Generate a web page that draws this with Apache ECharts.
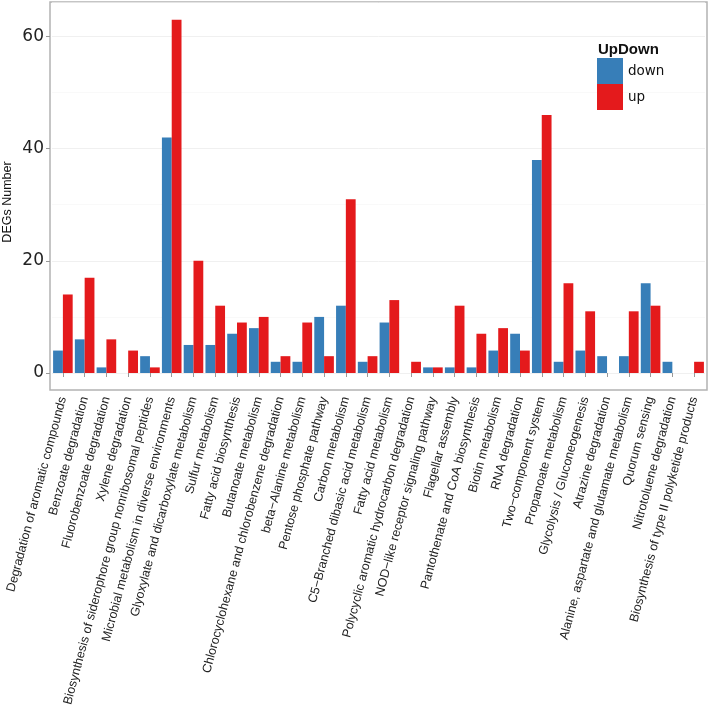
<!DOCTYPE html>
<html>
<head>
<meta charset="utf-8">
<script src="https://cdn.jsdelivr.net/npm/echarts@6/dist/echarts.min.js"></script>
<style>
html, body {margin: 0; padding: 0; background: #fff;}
#main {width: 708px; height: 706px;}
</style>
</head>
<body>
<div id="main"></div>
<script>
/* KEGG pathway DEGs, down / up */
let pathways = [
    'Degradation of aromatic compounds',
    'Benzoate degradation',
    'Fluorobenzoate degradation',
    'Xylene degradation',
    'Biosynthesis of siderophore group nonribosomal peptides',
    'Microbial metabolism in diverse environments',
    'Glyoxylate and dicarboxylate metabolism',
    'Sulfur metabolism',
    'Fatty acid biosynthesis',
    'Butanoate metabolism',
    'Chlorocyclohexane and chlorobenzene degradation',
    'beta\u2212Alanine metabolism',
    'Pentose phosphate pathway',
    'Carbon metabolism',
    'C5\u2212Branched dibasic acid metabolism',
    'Fatty acid metabolism',
    'Polycyclic aromatic hydrocarbon degradation',
    'NOD\u2212like receptor signaling pathway',
    'Flagellar assembly',
    'Pantothenate and CoA biosynthesis',
    'Biotin metabolism',
    'RNA degradation',
    'Two\u2212component system',
    'Propanoate metabolism',
    'Glycolysis / Gluconeogenesis',
    'Atrazine degradation',
    'Alanine, aspartate and glutamate metabolism',
    'Quorum sensing',
    'Nitrotoluene degradation',
    'Biosynthesis of type II polyketide products'
];
let downCounts = [4, 6, 1, 0, 3, 42, 5, 5, 7, 8, 2, 2, 10, 12, 2, 9, 0, 1, 1, 1, 4, 7, 38, 2, 4, 3, 3, 16, 2, 0];
let upCounts   = [14, 17, 6, 4, 1, 63, 20, 12, 9, 10, 3, 9, 3, 31, 3, 13, 2, 1, 12, 7, 8, 4, 46, 16, 11, 0, 11, 12, 0, 2];
let yTicks = [0, 20, 40, 60];

let groups = ['down', 'up'];
let colors = ['#377EB8', '#E41A1C'];

function barSeries(name, values, color){
    return {
        type: 'bar',
        name: name,
        xAxisIndex: 1,
        yAxisIndex: 1,
        data: values,
        barWidth: '45%',
        barGap: '0%',
        itemStyle: {color: color},
        emphasis: {disabled: true}
    };
}

let chart = echarts.init(document.getElementById('main'), null, {renderer: 'canvas'});
let option = {
    animation: false,
    backgroundColor: '#fff',
    title: {
        text: 'UpDown',
        left: 593,
        top: 37,
        textStyle: {fontFamily: 'Liberation Sans', fontSize: 15, fontWeight: 'bold', color: '#111'}
    },
    legend: {
        data: groups,
        orient: 'vertical',
        left: 597,
        top: 58,
        padding: 0,
        icon: 'rect',
        itemWidth: 26,
        itemHeight: 26,
        itemGap: 0,
        textStyle: {fontFamily: 'DejaVu Sans', fontSize: 13.5, color: '#111'}
    },
    grid: [
        // panel frame (full ggplot panel, with expansion below zero)
        {left: 50, right: 1, top: 2, bottom: 316, outerBoundsMode: 'none', containLabel: false,
         show: true, borderColor: '#b3b3b3', borderWidth: 1.5, backgroundColor: 'transparent'},
        // bar area, bottom sits on y = 0
        {left: 52, right: 3, top: 2, bottom: 333, outerBoundsMode: 'none', containLabel: false}
    ],
    xAxis: [
        {gridIndex: 0, type: 'value', show: false},
        {
            gridIndex: 1,
            type: 'category',
            data: pathways,
            offset: 17,
            axisLine: {show: false},
            axisTick: {show: true, alignWithLabel: true, length: 4, lineStyle: {color: '#999'}},
            axisLabel: {
                interval: 0,
                rotate: 75,
                margin: 7,
                fontFamily: 'Liberation Sans',
                fontSize: 12.5,
                color: '#222'
            },
            splitLine: {show: false}
        }
    ],
    yAxis: [
        {
            gridIndex: 0,
            type: 'value',
            name: 'DEGs Number',
            nameLocation: 'middle',
            nameRotate: 90,
            nameGap: 36,
            nameTextStyle: {fontFamily: 'Liberation Sans', fontSize: 12.5, color: '#111', padding: [0, 12, 0, 0]},
            axisLine: {show: false},
            axisTick: {show: false},
            axisLabel: {show: false},
            splitLine: {show: false}
        },
        {
            gridIndex: 1,
            type: 'value',
            min: 0,
            max: 66.15,
            interval: 20,
            offset: 2,
            axisLine: {show: false},
            axisTick: {show: true, length: 4, lineStyle: {color: '#999'}},
            axisLabel: {
                margin: 6,
                fontFamily: 'DejaVu Sans',
                fontSize: 17,
                color: '#222',
                showMaxLabel: false,
                formatter: function(v){ return yTicks.indexOf(v) >= 0 ? String(v) : ''; }
            },
            splitLine: {show: true, lineStyle: {color: '#ececec', width: 0.8}},
            minorTick: {show: false, splitNumber: 2},
            minorSplitLine: {show: true, lineStyle: {color: '#f5f5f5', width: 0.6}}
        }
    ],
    series: [
        barSeries(groups[0], downCounts, colors[0]),
        barSeries(groups[1], upCounts, colors[1])
    ]
};
chart.setOption(option);
</script>
</body>
</html>
